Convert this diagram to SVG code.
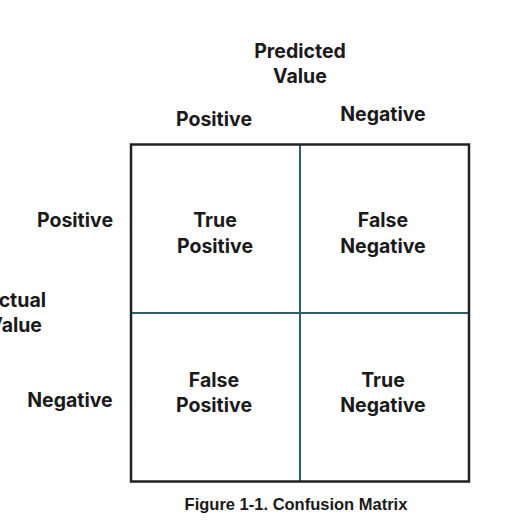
<svg xmlns="http://www.w3.org/2000/svg" width="527" height="526" viewBox="0 0 527 526">
<style>
.t{font-family:Inter,"Open Sans","Liberation Sans",sans-serif;font-weight:bold;font-size:19.5px;fill:#1a1a1a;text-anchor:middle}
.cap{font-family:"Liberation Sans",Arial,sans-serif;font-weight:bold;font-size:16.5px;fill:#1a1a1a;text-anchor:middle}
.div{stroke:#2a5f6e;stroke-width:2;fill:none}
</style>
<rect width="527" height="526" fill="#fff"/>
<g id="labels">
<text class="t" x="300" y="58">Predicted</text>
<text class="t" x="300" y="83">Value</text>
<text class="t" x="214" y="126">Positive</text>
<text class="t" x="383" y="121">Negative</text>
<text class="t" x="75" y="227">Positive</text>
<text class="t" x="70" y="407">Negative</text>
<text class="t" x="46" y="307" style="text-anchor:end">Actual</text>
<text class="t" x="42" y="332" style="text-anchor:end">Value</text>
</g>
<g id="connectors">
<line class="div" x1="300" y1="145" x2="300" y2="481"/>
<line class="div" x1="132" y1="313" x2="468" y2="313"/>
</g>
<rect x="131" y="144.5" width="338" height="337" fill="none" stroke="#222" stroke-width="2.5"/>
<g id="tp"><text class="t" x="215" y="227">True</text><text class="t" x="215" y="253">Positive</text></g>
<g id="fn"><text class="t" x="383" y="227">False</text><text class="t" x="383" y="253">Negative</text></g>
<g id="fp"><text class="t" x="214" y="387">False</text><text class="t" x="214" y="412">Positive</text></g>
<g id="tn"><text class="t" x="383" y="387">True</text><text class="t" x="383" y="412">Negative</text></g>
<text class="cap" x="296" y="510">Figure 1-1. Confusion Matrix</text>
</svg>
